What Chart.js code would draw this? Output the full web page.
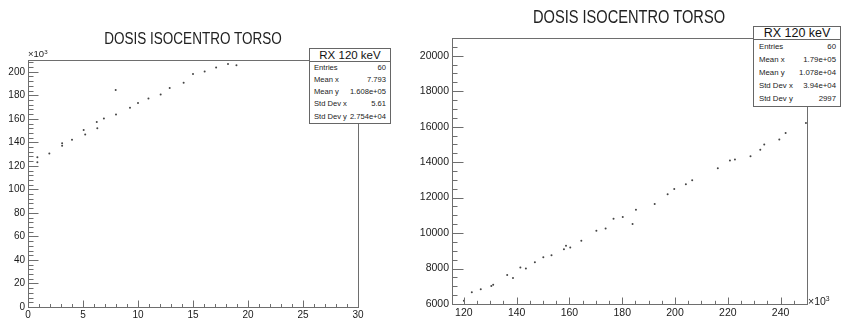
<!DOCTYPE html>
<html>
<head>
<meta charset="utf-8">
<script src="https://cdn.jsdelivr.net/npm/chart.js@4.4.1/dist/chart.umd.min.js"></script>
<style>
  body { margin: 0; background: #fff; }
  #wrap { position: relative; width: 841px; height: 320px; overflow: hidden; background: #fff;
          font-family: "Liberation Sans", Arial, sans-serif; color: #1a1a1a; }
  .cv { position: absolute; top: 0; }
  .title { position: absolute; white-space: nowrap;
           font-family: "Liberation Sans", Arial, sans-serif; color: #222; }
  .stats { position: absolute; background: #fff; border: 1px solid #666; box-sizing: border-box; }
  .stats .hdr { position: absolute; left: 0; right: 0; top: 0; border-bottom: 1px solid #666;
                text-align: center; box-sizing: border-box; color: #111; }
  .stats .row { position: absolute; white-space: nowrap; line-height: 10px; height: 10px; color: #222; }
  .exp { position: absolute; white-space: nowrap; color: #222; }
  .exp sup { font-size: 65%; vertical-align: 0; position: relative; top: -0.55em; }
</style>
</head>
<body>
<div id="wrap">
  <canvas id="c1" class="cv" width="420" height="320" style="left:0px"></canvas>
  <canvas id="c2" class="cv" width="421" height="320" style="left:420px"></canvas>
</div>
<script>
// ---------------- data ----------------
const TITLE = "DOSIS ISOCENTRO TORSO";
const HIST_NAME = "RX 120 keV";
const STAT_LABELS = ["Entries", "Mean x", "Mean y", "Std Dev x", "Std Dev y"];
const LEFT_STATS = ["60", "7.793", "1.608e+05", "5.61", "2.754e+04"];
const RIGHT_STATS = ["60", "1.79e+05", "1.078e+04", "3.94e+04", "2997"];

const LEFT_X = [0.85, 0.85, 1.94, 3.1, 3.1, 4.0, 5.06, 5.2, 6.25, 6.3, 6.9, 8.0, 7.97, 9.27,
                10.0, 10.95, 12.06, 12.88, 14.15, 15.0, 16.06, 17.1, 18.18, 18.95];
const LEFT_Y = [127400, 123000, 130500, 139300, 137000, 142100, 150400, 146700, 157200, 152000,
                160300, 163600, 184400, 169400, 173400, 177300, 180700, 186100, 190600, 198000,
                200300, 203700, 206500, 205600];

const RIGHT_X = [120000, 123000, 126400, 130400, 131100, 136400, 138600, 141400, 143500, 146900,
                 150100, 153200, 157900, 158700, 160300, 164500, 170200, 173700, 176700, 180200,
                 183900, 185200, 192300, 197200, 199700, 204100, 206500, 216200, 220800, 222700,
                 228600, 232300, 233800, 239500, 241900, 249600];
const RIGHT_Y = [6180, 6656, 6826, 7019, 7092, 7641, 7471, 8054, 7998, 8354,
                 8637, 8750, 9090, 9282, 9186, 9565, 10131, 10261, 10810, 10901,
                 10505, 11320, 11637, 12186, 12486, 12751, 12978, 13657, 14093, 14149,
                 14336, 14692, 14998, 15281, 15638, 16204];

const LEFT_X_TICKS = [0, 5, 10, 15, 20, 25, 30];
const LEFT_Y_TICKS = [0, 20000, 40000, 60000, 80000, 100000, 120000, 140000, 160000, 180000, 200000];
const RIGHT_X_TICKS = [120000, 140000, 160000, 180000, 200000, 220000, 240000];
const RIGHT_Y_TICKS = [6000, 8000, 10000, 12000, 14000, 16000, 18000, 20000];

// ---------------- ROOT-like frame & inward ticks ----------------
const rootAxes = {
  id: 'rootAxes',
  afterDraw(chart, args, o) {
    const { ctx, chartArea: a, scales: { x, y } } = chart;
    ctx.save();
    ctx.strokeStyle = o.color;
    ctx.lineWidth = 1;
    const L = Math.round(a.left) + 0.5, R = Math.round(a.right) + 0.5;
    const T = Math.round(a.top) + 0.5, B = Math.round(a.bottom) + 0.5;
    ctx.strokeRect(L, T, R - L, B - T);
    ctx.beginPath();
    const isMajor = (v, s) => Math.abs(v / s - Math.round(v / s)) < 1e-6;
    for (let v = Math.ceil(x.min / o.xMinor - 1e-9) * o.xMinor; v <= x.max + 1e-9; v += o.xMinor) {
      const px = Math.round(x.getPixelForValue(v)) + 0.5;
      const len = isMajor(v, o.xMajor) ? o.xMajorLen : o.xMinorLen;
      ctx.moveTo(px, B); ctx.lineTo(px, B - len);
    }
    for (let v = Math.ceil(y.min / o.yMinor - 1e-9) * o.yMinor; v <= y.max + 1e-9; v += o.yMinor) {
      const py = Math.round(y.getPixelForValue(v)) + 0.5;
      const len = isMajor(v, o.yMajor) ? o.yMajorLen : o.yMinorLen;
      ctx.moveTo(L, py); ctx.lineTo(L + len, py);
    }
    ctx.stroke();
    ctx.restore();
  }
};

function makeChart(id, xs, ys, cfg) {
  const pts = xs.map((v, i) => ({ x: v, y: ys[i] }));
  return new Chart(document.getElementById(id), {
    type: 'scatter',
    data: { datasets: [{ data: pts, pointRadius: 1, pointHoverRadius: 1,
                         backgroundColor: '#444', borderWidth: 0 }] },
    options: {
      responsive: false, animation: false, devicePixelRatio: 1,
      layout: { padding: cfg.padding },
      plugins: { legend: { display: false }, tooltip: { enabled: false },
                 rootAxes: cfg.ticks },
      scales: {
        x: {
          type: 'linear', min: cfg.xMin, max: cfg.xMax,
          grid: { display: false, drawTicks: false }, border: { display: false },
          afterBuildTicks: s => { s.ticks = cfg.xTicks.map(v => ({ value: v })); },
          afterFit: s => { s.height = cfg.xAxisH; },
          ticks: { autoSkip: false, maxRotation: 0, padding: cfg.xPad, color: '#1a1a1a',
                   font: { family: 'Liberation Sans', size: cfg.fontSize },
                   callback: v => String(Math.round(v / cfg.xDiv)) }
        },
        y: {
          type: 'linear', min: cfg.yMin, max: cfg.yMax,
          grid: { display: false, drawTicks: false }, border: { display: false },
          afterBuildTicks: s => { s.ticks = cfg.yTicks.map(v => ({ value: v })); },
          afterFit: s => { s.width = cfg.yAxisW; },
          ticks: { autoSkip: false, padding: cfg.yPad, color: '#1a1a1a',
                   font: { family: 'Liberation Sans', size: cfg.fontSize },
                   callback: v => String(Math.round(v / cfg.yDiv)) }
        }
      }
    },
    plugins: [rootAxes]
  });
}

makeChart('c1', LEFT_X, LEFT_Y, {
  padding: { top: 60, right: 62, left: 0, bottom: 0 },
  xMin: 0, xMax: 30, yMin: 0, yMax: 210000,
  xTicks: LEFT_X_TICKS, yTicks: LEFT_Y_TICKS, xDiv: 1, yDiv: 1000,
  xAxisH: 13, yAxisW: 28, xPad: 2, yPad: 3, fontSize: 10,
  ticks: { color: '#6e6e6e', xMajor: 5, xMinor: 1, yMajor: 20000, yMinor: 4000,
           xMajorLen: 7, xMinorLen: 3.5, yMajorLen: 10, yMinorLen: 5 }
});

makeChart('c2', RIGHT_X, RIGHT_Y, {
  padding: { top: 38, right: 34, left: 0, bottom: 0 },
  xMin: 115500, xMax: 250000, yMin: 6000, yMax: 21000,
  xTicks: RIGHT_X_TICKS, yTicks: RIGHT_Y_TICKS, xDiv: 1000, yDiv: 1,
  xAxisH: 16, yAxisW: 32, xPad: 3, yPad: 3, fontSize: 10.5,
  ticks: { color: '#6e6e6e', xMajor: 20000, xMinor: 5000, yMajor: 2000, yMinor: 500,
           xMajorLen: 7, xMinorLen: 3.7, yMajorLen: 11, yMinorLen: 5 }
});

// ---------------- text overlays ----------------
const wrap = document.getElementById('wrap');
function addTitle(cx, cy, size, sx) {
  const d = document.createElement('div');
  d.className = 'title'; d.textContent = TITLE;
  d.style.left = cx + 'px'; d.style.top = cy + 'px'; d.style.fontSize = size + 'px';
  d.style.transform = 'translate(-50%, -50%) scaleX(' + sx + ')';
  wrap.appendChild(d);
}
function addStats(b) {
  const box = document.createElement('div');
  box.className = 'stats';
  Object.assign(box.style, { left: b.left + 'px', top: b.top + 'px', width: b.w + 'px', height: b.h + 'px' });
  const h = document.createElement('div');
  h.className = 'hdr'; h.textContent = HIST_NAME;
  Object.assign(h.style, { height: b.hdrH + 'px', lineHeight: (b.hdrH - 1) + 'px', fontSize: b.hdrSize + 'px' });
  box.appendChild(h);
  STAT_LABELS.forEach((lab, i) => {
    const cy = b.row0 + i * b.rowStep - b.top - 1;
    const l = document.createElement('div');
    l.className = 'row'; l.textContent = lab;
    Object.assign(l.style, { left: b.padL + 'px', top: (cy - 5) + 'px', fontSize: b.rowSize + 'px' });
    const v = document.createElement('div');
    v.className = 'row'; v.textContent = b.values[i];
    Object.assign(v.style, { right: b.padR + 'px', top: (cy - 5) + 'px', fontSize: b.rowSize + 'px' });
    box.appendChild(l); box.appendChild(v);
  });
  wrap.appendChild(box);
}
function addExp(x, y, size) {
  const d = document.createElement('div');
  d.className = 'exp'; d.innerHTML = '\u00d710<sup>3</sup>';
  Object.assign(d.style, { left: x + 'px', top: y + 'px', fontSize: size + 'px' });
  wrap.appendChild(d);
}

addTitle(193, 39, 16, 0.845);
addTitle(629, 17, 17.5, 0.836);
addStats({ left: 309, top: 48, w: 82, h: 76, hdrH: 13, hdrSize: 11.5, row0: 67.7, rowStep: 12.25,
           rowSize: 7.6, padL: 4, padR: 4, values: LEFT_STATS });
addStats({ left: 753, top: 26, w: 88, h: 81, hdrH: 13, hdrSize: 12.5, row0: 46.7, rowStep: 13.1,
           rowSize: 7.8, padL: 5, padR: 4, values: RIGHT_STATS });
addExp(28, 48, 9.5);
addExp(808, 295, 10.5);
</script>
</body>
</html>
